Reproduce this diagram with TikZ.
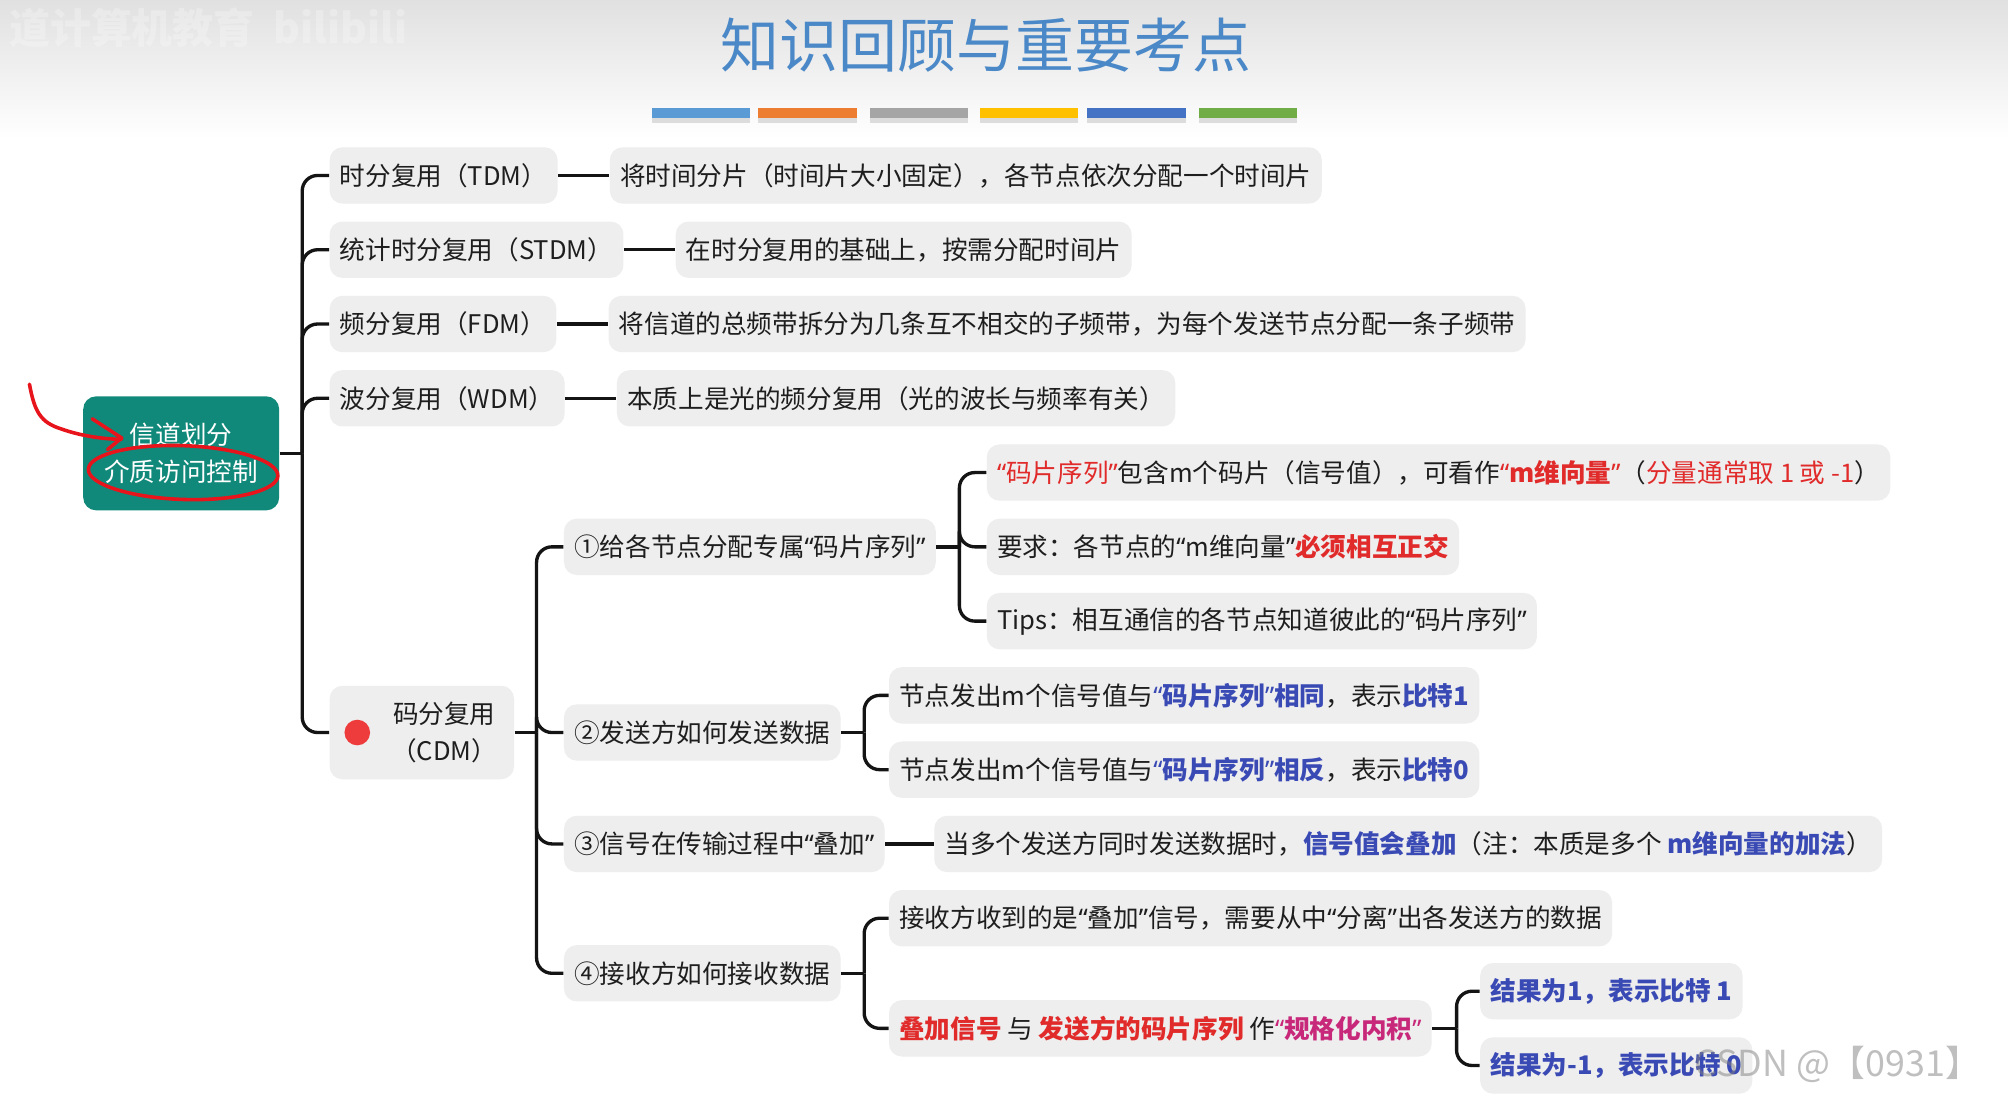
\documentclass[tikz,border=0pt]{standalone}
\usepackage{fontspec}
\setmainfont{Noto Sans CJK SC}[AutoFakeSlant=0.2]
\newfontfamily\quotefam{Noto Sans}
\newcommand{\qL}{{\quotefam “}}
\newcommand{\qR}{{\quotefam ”}}
\usetikzlibrary{positioning,calc}
\definecolor{boxgray}{HTML}{EEEEEE}
\definecolor{txt}{HTML}{1E1E1E}
\definecolor{cred}{HTML}{E12B2B}
\definecolor{cblue}{HTML}{3A4AB5}
\definecolor{cmag}{HTML}{C8287A}
\definecolor{rootgreen}{HTML}{11897A}
\definecolor{titleblue}{HTML}{4A88C7}
\definecolor{annred}{HTML}{E8141C}
\definecolor{dotred}{HTML}{EE3B3B}
\definecolor{barA}{HTML}{5B9BD5}
\definecolor{barB}{HTML}{ED7D31}
\definecolor{barC}{HTML}{A5A5A5}
\definecolor{barD}{HTML}{FFC000}
\definecolor{barE}{HTML}{4472C4}
\definecolor{barF}{HTML}{70AD47}
\begin{document}
\begin{tikzpicture}[x=0.5pt,y=-0.5pt,
  box/.style={fill=boxgray, rounded corners=5pt, inner xsep=4pt, inner ysep=0pt,
    minimum height=22pt, anchor=west, text=txt, font=\fontsize{10pt}{13pt}\selectfont},
  rootbox/.style={fill=rootgreen, rounded corners=5pt, minimum width=76.5pt,
    minimum height=44.5pt, align=center, text=white, font=\fontsize{10pt}{14.5pt}\selectfont},
  conn/.style={draw=black!92, line width=1.3pt},
  trunk/.style={conn, rounded corners=6pt},
  hand/.style={draw=annred, line width=1.4pt, line cap=round, line join=round}]
\useasboundingbox (0,0) rectangle (1568,858);
\fill[white] (0,0) rectangle (1568,858);
\shade[top color=black!12, bottom color=white] (0,0) rectangle (1568,108);
% watermark top-left
\node[anchor=west, font=\fontsize{16pt}{16pt}\selectfont\bfseries, text=white, opacity=0.25] (wmA) at (0,22) {道计算机教育\ \ bilibili};
% title
\node[font=\fontsize{23pt}{28pt}\selectfont, text=titleblue] (title) at (770,35) {知识回顾与重要考点};
% colour bars
\foreach \xa/\xb/\c in {509/586/barA, 592/669/barB, 679/756/barC, 765/842/barD, 849/926/barE, 936/1013/barF}{
  \fill[black, opacity=0.12] (\xa,92) rectangle (\xb,96);
  \fill[\c] (\xa,84) rectangle (\xb,92);
}
% root
\node[rootbox] (root) at (141.5,354) {信道划分\\介质访问控制};
\coordinate (j0) at (236,354);
% level 1
\node[box] (tdm) at (257,137) {时分复用（TDM）};
\node[box] (stdm) at (257,195) {统计时分复用（STDM）};
\node[box] (fdm) at (257,253) {频分复用（FDM）};
\node[box] (wdm) at (257,311) {波分复用（WDM）};
\node[box, minimum width=72pt, minimum height=36.5pt] (cdm) at (257,572) {};
\node[circle, fill=dotred, minimum size=10pt, inner sep=0pt] (cdmdot) at (279,572) {};
\node[text=txt, align=center, font=\fontsize{10pt}{14.5pt}\selectfont] (cdmtext) at (347,572) {码分复用\\（CDM）};
% descriptions
\node[box, right=20pt of tdm] (tdmd) {将时间分片（时间片大小固定），各节点依次分配一个时间片};
\node[box, right=20pt of stdm] (stdmd) {在时分复用的基础上，按需分配时间片};
\node[box, right=20pt of fdm] (fdmd) {将信道的总频带拆分为几条互不相交的子频带，为每个发送节点分配一条子频带};
\node[box, right=20pt of wdm] (wdmd) {本质上是光的频分复用（光的波长与频率有关）};
% CDM children
\coordinate (j1) at (419,572);
\node[box] (c1) at (440,427) {①给各节点分配专属\qL 码片序列\qR};
\node[box] (c2) at (440,572) {②发送方如何发送数据};
\node[box] (c3) at (440,659) {③信号在传输过程中\qL 叠加\qR};
\node[box] (c4) at (440,760) {④接收方如何接收数据};
% c1 children
\coordinate (jc1) at ($(c1.east)+(18,0)$);
\node[box] (c1a) at ($(c1.east)+(39,-58)$) {{\color{cred}\qL 码片序列\qR}包含m个码片（信号值），可看作{\color{cred}\bfseries \qL m维向量\qR}（{\color{cred}分量通常取 1 或 -1}）};
\node[box] (c1b) at ($(c1.east)+(39,0)$) {要求：各节点的\qL m维向量\qR{\color{cred}\bfseries 必须相互正交}};
\node[box] (c1c) at ($(c1.east)+(39,58)$) {Tips：相互通信的各节点知道彼此的\qL 码片序列\qR};
% c2 children
\coordinate (jc2) at ($(c2.east)+(18,0)$);
\node[box] (c2a) at ($(c2.east)+(37,-29)$) {节点发出m个信号值与{\color{cblue}\bfseries \qL 码片序列\qR 相同}，表示{\color{cblue}\bfseries 比特1}};
\node[box] (c2b) at ($(c2.east)+(37,29)$) {节点发出m个信号值与{\color{cblue}\bfseries \qL 码片序列\qR 相反}，表示{\color{cblue}\bfseries 比特0}};
% c3 child
\node[box] (c3a) at ($(c3.east)+(38,0)$) {当多个发送方同时发送数据时，{\color{cblue}\bfseries 信号值会叠加}（注：本质是多个 {\color{cblue}\bfseries m维向量的加法}）};
% c4 children
\coordinate (jc4) at ($(c4.east)+(18,0)$);
\node[box] (c4a) at ($(c4.east)+(37,-43)$) {接收方收到的是\qL 叠加\qR 信号，需要从中\qL 分离\qR 出各发送方的数据};
\node[box] (c4b) at ($(c4.east)+(37,43)$) {{\color{cred}\bfseries\itshape 叠加信号} 与 {\color{cred}\bfseries\itshape 发送方的码片序列} 作{\color{cmag}\bfseries \qL 规格化内积\qR}};
\coordinate (jc4b) at ($(c4b.east)+(19,0)$);
\node[box] (r1) at ($(c4b.east)+(37,-29)$) {{\color{cblue}\bfseries 结果为1，表示比特 1}};
\node[box] (r2) at ($(c4b.east)+(37,29)$) {{\color{cblue}\bfseries 结果为-1，表示比特 0}};
% connectors
\draw[conn] (root.east) -- (j0);
\foreach \n in {tdm,stdm,fdm,wdm,cdm} \draw[trunk] (j0) |- (\n.west);
\draw[conn] (tdm.east) -- (tdmd.west);
\draw[conn] (stdm.east) -- (stdmd.west);
\draw[conn] (fdm.east) -- (fdmd.west);
\draw[conn] (wdm.east) -- (wdmd.west);
\draw[conn] (cdm.east) -- (j1);
\foreach \n in {c1,c2,c3,c4} \draw[trunk] (j1) |- (\n.west);
\draw[conn] (c1.east) -- (jc1);
\foreach \n in {c1a,c1b,c1c} \draw[trunk] (jc1) |- (\n.west);
\draw[conn] (c2.east) -- (jc2);
\foreach \n in {c2a,c2b} \draw[trunk] (jc2) |- (\n.west);
\draw[conn] (c3.east) -- (c3a.west);
\draw[conn] (c4.east) -- (jc4);
\foreach \n in {c4a,c4b} \draw[trunk] (jc4) |- (\n.west);
\draw[conn] (c4b.east) -- (jc4b);
\foreach \n in {r1,r2} \draw[trunk] (jc4b) |- (\n.west);
% hand-drawn red annotations
\draw[hand] (23,300) .. controls (27,322) and (32,330) .. (48,335) .. controls (62,340) and (80,343) .. (95,343);
\draw[hand] (72,327) -- (95,342) -- (84,351);
\draw[hand, rotate around={-2:(143,369)}] (143,369) ellipse (37pt and 10.5pt);
% watermark bottom-right
\node[font=\fontsize{14pt}{14pt}\selectfont, text=gray, opacity=0.5] (wmB) at (1435,831) {CSDN @【0931】};
\end{tikzpicture}
\end{document}
